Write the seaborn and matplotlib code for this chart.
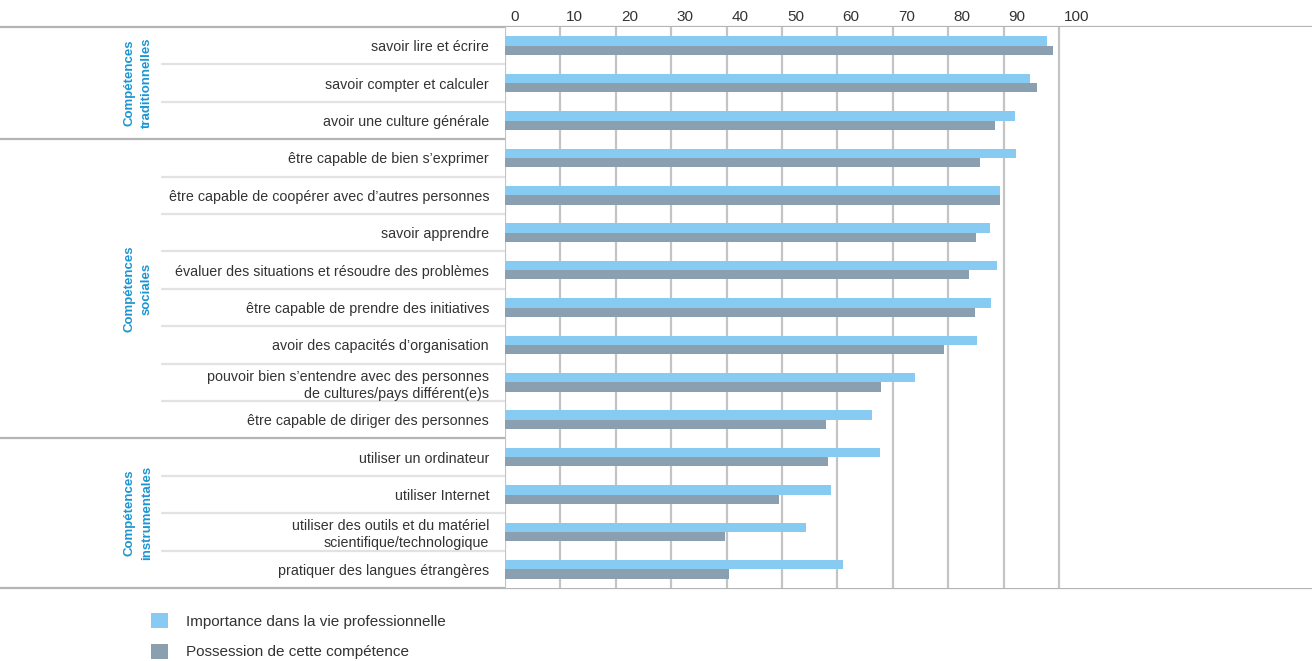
import matplotlib
matplotlib.use("Agg")
import matplotlib.pyplot as plt
import matplotlib.transforms as mtransforms
from matplotlib.lines import Line2D
from matplotlib.patches import Patch
import seaborn as sns
import pandas as pd

# ---------------- data ----------------
competences = [
    "savoir lire et écrire",
    "savoir compter et calculer",
    "avoir une culture générale",
    "être capable de bien s’exprimer",
    "être capable de coopérer avec d’autres personnes",
    "savoir apprendre",
    "évaluer des situations et résoudre des problèmes",
    "être capable de prendre des initiatives",
    "avoir des capacités d’organisation",
    "pouvoir bien s’entendre avec des personnes\nde cultures/pays différent(e)s",
    "être capable de diriger des personnes",
    "utiliser un ordinateur",
    "utiliser Internet",
    "utiliser des outils et du matériel\nscientifique/technologique",
    "pratiquer des langues étrangères",
]
importance = [97.9, 94.7, 92.0, 92.2, 89.3, 87.5, 88.8, 87.7, 85.2, 74.0, 66.3, 67.6, 58.9, 54.4, 61.0]
possession = [99.0, 96.1, 88.4, 85.7, 89.3, 85.0, 83.7, 84.8, 79.3, 67.9, 57.9, 58.3, 49.5, 39.8, 40.4]
series_names = ["Importance dans la vie professionnelle", "Possession de cette compétence"]
groups = ["Compétences\ntraditionnelles", "Compétences\nsociales", "Compétences\ninstrumentales"]
group_sizes = [3, 8, 4]
x_ticks = [0, 10, 20, 30, 40, 50, 60, 70, 80, 90, 100]

# ---------------- style ----------------
sns.set_style("white")
plt.rcParams["font.family"] = ["Liberation Sans", "DejaVu Sans"]
BLUE = "#87CBF2"
GREY = "#8A9FB0"
TITLE_BLUE = "#1B96D2"
TEXT = "#333333"
GRID = "#c4c4c4"
ROWSEP = "#e2e2e2"
GROUPSEP = "#b4b4b4"

W, H = 1312, 661
fig = plt.figure(figsize=(W / 100, H / 100), dpi=100)
x0, x100, ytop, ybot = 505, 1059, 27, 588
ax = fig.add_axes([x0 / W, 1 - ybot / H, (W - x0) / W, (ybot - ytop) / H])

df = pd.DataFrame({
    "comp": competences * 2,
    "val": importance + possession,
    "serie": [series_names[0]] * len(competences) + [series_names[1]] * len(competences),
})
sns.barplot(data=df, y="comp", x="val", hue="serie", orient="h",
            palette=[BLUE, GREY], width=0.5, saturation=1, linewidth=0,
            legend=False, ax=ax, zorder=3)

n = len(competences)
ax.set_xlim(0, 100 * (W - x0) / (x100 - x0))
ax.set_ylim(n - 0.5, -0.5)
for s in ax.spines.values():
    s.set_visible(False)
ax.set_xlabel("")
ax.set_ylabel("")

# vertical grid
for t in x_ticks:
    ax.axvline(t, color=GRID, lw=1.6, zorder=1)

# top ticks
ax.xaxis.tick_top()
ax.set_xticks(x_ticks)
ax.set_xticklabels([str(t) for t in x_ticks], fontsize=11, color=TEXT)
ax.tick_params(axis="x", length=0, pad=2.5)
off = mtransforms.ScaledTranslation(5 / 100, 0, fig.dpi_scale_trans)
for lab in ax.get_xticklabels():
    lab.set_horizontalalignment("left")
    lab.set_transform(lab.get_transform() + off)

# y labels
ax.set_yticks(range(n))
ax.set_yticklabels(competences, fontsize=10.3, color=TEXT, linespacing=1.25)
ax.tick_params(axis="y", length=0, pad=11.5)

# separators
trans = mtransforms.blended_transform_factory(fig.transFigure, ax.transData)
bounds = [-0.5]
for g in group_sizes:
    bounds.append(bounds[-1] + g)
group_bounds = set(bounds)
for i in range(n - 1):
    yb = i + 0.5
    if yb not in group_bounds:
        fig.add_artist(Line2D([162 / W, 1], [yb, yb], transform=trans, color=ROWSEP, lw=1.6, zorder=0))
for yb in bounds:
    fig.add_artist(Line2D([0, 1], [yb, yb], transform=trans, color=GROUPSEP, lw=1.6, zorder=0))

# group labels
for gi, g in enumerate(groups):
    yc = (bounds[gi] + bounds[gi + 1]) / 2
    fig.text(138 / W, yc, g, transform=trans, rotation=90, ha="center", va="center",
             multialignment="center", color=TITLE_BLUE, fontsize=9.5, fontweight="bold",
             linespacing=1.6)

# legend
handles = [Patch(facecolor=BLUE, edgecolor="none"), Patch(facecolor=GREY, edgecolor="none")]
fig.legend(handles, series_names, loc="upper left", bbox_to_anchor=(145 / W, 1 - 607 / H),
           frameon=False, fontsize=11, handlelength=1.1, handleheight=1.1,
           handletextpad=1.2, labelspacing=1.0, borderaxespad=0, labelcolor=TEXT)

fig.savefig("out.png", dpi=100)
